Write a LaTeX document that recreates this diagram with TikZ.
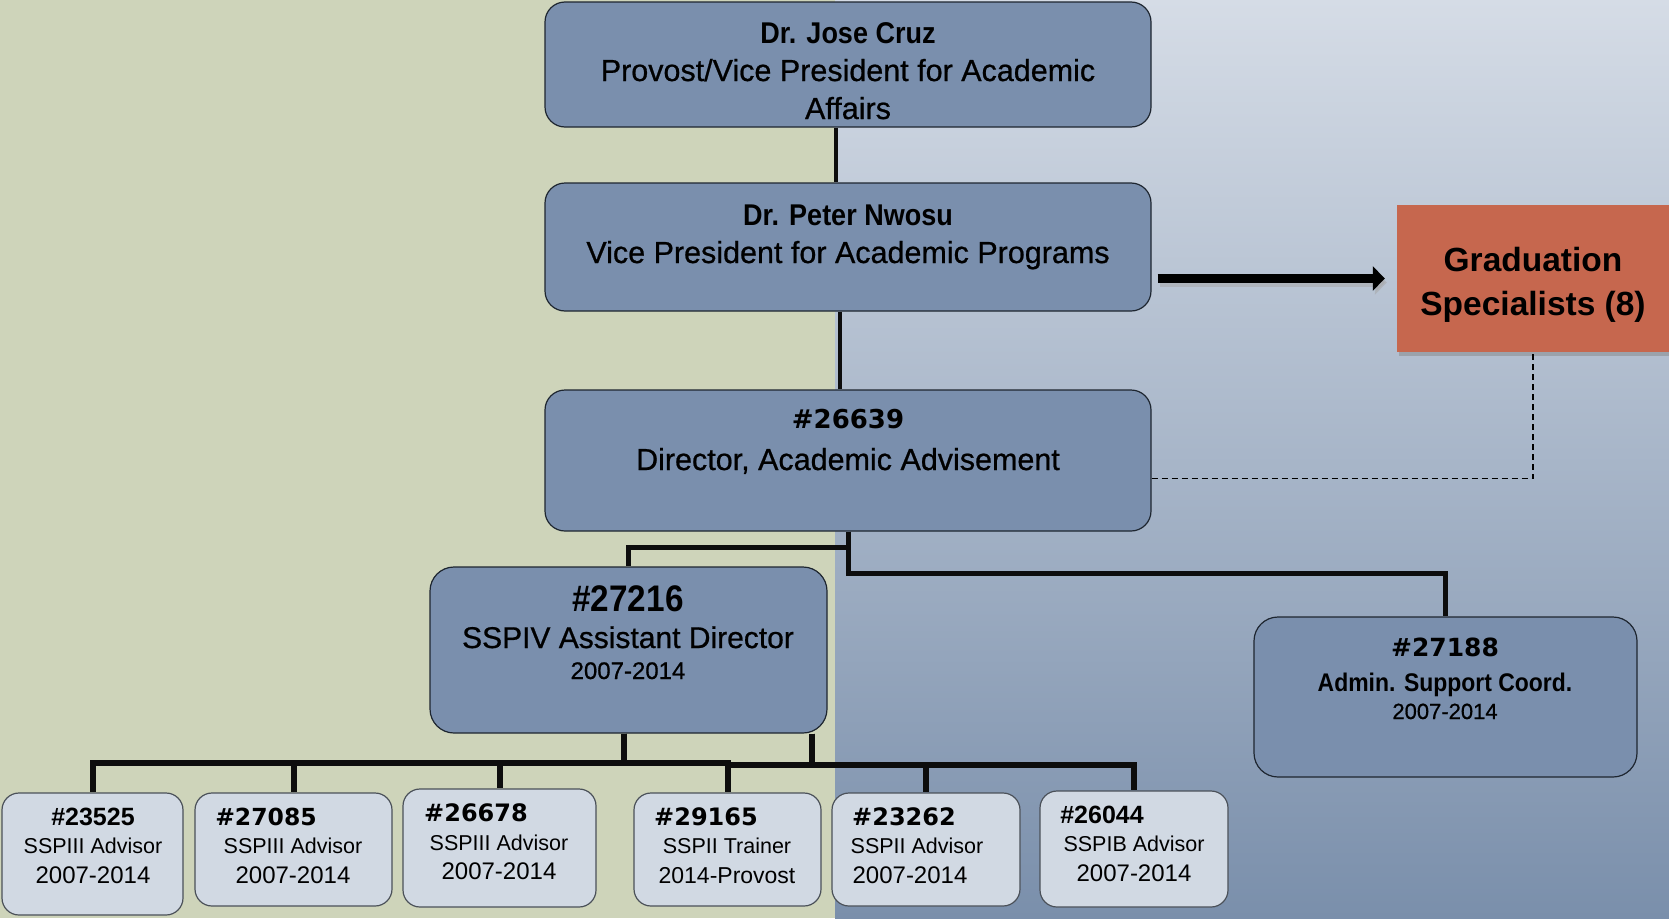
\documentclass[tikz,border=0pt]{standalone}
\usepackage{fontspec}
\setmainfont{Liberation Sans}
\newfontfamily\condf[FakeStretch=0.9]{Liberation Sans}
\newfontfamily\medf[FakeBold=0.7]{Liberation Sans}
\newfontfamily\widef{DejaVu Sans}
\usetikzlibrary{arrows.meta,shadows,calc}
\definecolor{leftbg}{HTML}{CED4BA}
\definecolor{rtop}{HTML}{D5DCE6}
\definecolor{rbot}{HTML}{7A8FAB}
\definecolor{boxblue}{HTML}{7A8FAD}
\definecolor{boxlight}{HTML}{D1D9E3}
\definecolor{gradorange}{HTML}{C6674E}
\definecolor{edgecol}{HTML}{1E2630}
\newcommand{\fs}[1]{\fontsize{#1}{#1}\selectfont}
\begin{document}
\begin{tikzpicture}[x=1pt,y=-1pt,
  bigbox/.style={draw=edgecol, line width=1.2pt, fill=boxblue, rounded corners=20pt, inner sep=0pt},
  smallbox/.style={draw=edgecol!80, line width=1.2pt, fill=boxlight, rounded corners=17pt, inner sep=0pt},
  gradbox/.style={fill=gradorange, inner sep=0pt, drop shadow={shadow xshift=2pt, shadow yshift=-4pt, opacity=0.45}},
  conn/.style={line width=5pt, black!95},
  bus/.style={line width=6pt, black!95},
  dashconn/.style={line width=1.8pt, black, dash pattern=on 6pt off 4pt},
  lbl/.style={anchor=base, inner sep=0pt, text=black}
]
\useasboundingbox (0,0) rectangle (1669,918);
\fill[leftbg] (0,0) rectangle (835,918);
\shade[top color=rtop, bottom color=rbot] (835,0) rectangle (1669,918);

% boxes
\node[bigbox, minimum width=606pt, minimum height=125pt] (A) at (848,64.5) {};
\node[bigbox, minimum width=606pt, minimum height=128pt] (B) at (848,247) {};
\node[bigbox, minimum width=606pt, minimum height=141pt] (C) at (848,460.5) {};
\node[gradbox, minimum width=272pt, minimum height=147pt] (G) at (1533,278.5) {};
\node[bigbox, minimum width=397pt, minimum height=166pt, rounded corners=24pt] (D) at (628.5,650) {};
\node[bigbox, minimum width=383pt, minimum height=160pt, rounded corners=24pt] (E) at (1445.5,697) {};
\node[smallbox, minimum width=181pt, minimum height=122pt] (b1) at (92.5,854) {};
\node[smallbox, minimum width=197pt, minimum height=113pt] (b2) at (293.5,849.5) {};
\node[smallbox, minimum width=193pt, minimum height=118pt] (b3) at (499.5,848) {};
\node[smallbox, minimum width=187pt, minimum height=113pt] (b4) at (727.5,849.5) {};
\node[smallbox, minimum width=188pt, minimum height=113pt] (b5) at (926,849.5) {};
\node[smallbox, minimum width=188pt, minimum height=116pt] (b6) at (1134,849) {};

% connectors
\draw[conn, line width=4pt] ([xshift=-12pt]A.south) -- ([xshift=-12pt]B.north);
\draw[conn, line width=4pt] ([xshift=-8pt]B.south) -- ([xshift=-8pt]C.north);
\draw[conn] (C.south) -- ++(0,16) -| (D.north);
\draw[conn] (C.south) -- ++(0,42) -| (E.north);
\draw[dashconn] ([yshift=-18pt]C.east) -| (G.south);
\coordinate (as) at ($(B.east |- G.west)+(6,0)$);
\coordinate (ae) at ($(G.west)+(-12,0)$);
\draw[line width=9pt, black!35, opacity=0.5, -{Triangle[length=12pt,width=24pt]}] ($(as)+(2,4)$) -- ($(ae)+(2,4)$);
\draw[line width=9pt, black, -{Triangle[length=12pt,width=24pt]}] (as) -- (ae);
\draw[bus] ([xshift=-5pt]D.south) -- ++(0,29) -| (b1.north);
\draw[bus] ([xshift=-5pt]D.south) -- ++(0,29) -| (b2.north);
\draw[bus] ([xshift=-5pt]D.south) -- ++(0,29) -| (b3.north);
\draw[bus] ([xshift=-5pt]D.south) -- ++(0,29) -| (b4.north);
\draw[bus] ($(D.south east)+(-16,0)$) -- ++(0,31) -| (b4.north);
\draw[bus] ($(D.south east)+(-16,0)$) -- ++(0,31) -| (b5.north);
\draw[bus] ($(D.south east)+(-16,0)$) -- ++(0,31) -| (b6.north);

% texts
\node[lbl] (tA1) at (848,43) {\condf\bfseries\fs{30}Dr. Jose Cruz};
\node[lbl] (tA2) at (848,81) {\medf\fs{30.5}Provost/Vice President for Academic};
\node[lbl] (tA3) at (848,119) {\medf\fs{30.5}Affairs};
\node[lbl] (tB1) at (848,225) {\condf\bfseries\fs{30}Dr. Peter Nwosu};
\node[lbl] (tB2) at (848,263) {\medf\fs{30.5}Vice President for Academic Programs};
\node[lbl] (tC1) at (848,428) {\widef\bfseries\fs{26}\#26639};
\node[lbl] (tC2) at (848,470) {\medf\fs{30.5}Director, Academic Advisement};
\node[lbl] (tG1) at (1533,271) {\bfseries\fs{33.5}Graduation};
\node[lbl] (tG2) at (1533,315) {\bfseries\fs{33.5}Specialists (8)};
\node[lbl] (tD1) at (628,611) {\condf\bfseries\fs{37}\#27216};
\node[lbl] (tD2) at (628,648) {\medf\fs{30}SSPIV Assistant Director};
\node[lbl] (tD3) at (628,679) {\medf\fs{24}2007-2014};
\node[lbl] (tE1) at (1445,656) {\widef\bfseries\fs{25}\#27188};
\node[lbl] (tE2) at (1445,691) {\condf\bfseries\fs{25.5}Admin. Support Coord.};
\node[lbl] (tE3) at (1445,719) {\medf\fs{22}2007-2014};

\node[lbl] (t11) at (93,825) {\bfseries\fs{25}\#23525};
\node[lbl] (t12) at (93,853) {\fs{21.5}SSPIII Advisor};
\node[lbl] (t13) at (93,883) {\fs{24}2007-2014};
\node[lbl] (t21) at (266,825) {\widef\bfseries\fs{23.5}\#27085};
\node[lbl] (t22) at (293,853) {\fs{21.5}SSPIII Advisor};
\node[lbl] (t23) at (293,883) {\fs{24}2007-2014};
\node[lbl] (t31) at (476,821) {\widef\bfseries\fs{24}\#26678};
\node[lbl] (t32) at (499,850) {\fs{21.5}SSPIII Advisor};
\node[lbl] (t33) at (499,879) {\fs{24}2007-2014};
\node[lbl] (t41) at (706,825) {\widef\bfseries\fs{24}\#29165};
\node[lbl] (t42) at (727,853) {\fs{21.5}SSPII Trainer};
\node[lbl] (t43) at (727,883) {\fs{23}2014-Provost};
\node[lbl] (t51) at (904,825) {\widef\bfseries\fs{24}\#23262};
\node[lbl] (t52) at (917,853) {\fs{21.5}SSPII Advisor};
\node[lbl] (t53) at (910,883) {\fs{24}2007-2014};
\node[lbl] (t61) at (1102,823) {\bfseries\fs{25}\#26044};
\node[lbl] (t62) at (1134,851) {\fs{21.5}SSPIB Advisor};
\node[lbl] (t63) at (1134,881) {\fs{24}2007-2014};
\end{tikzpicture}
\end{document}
